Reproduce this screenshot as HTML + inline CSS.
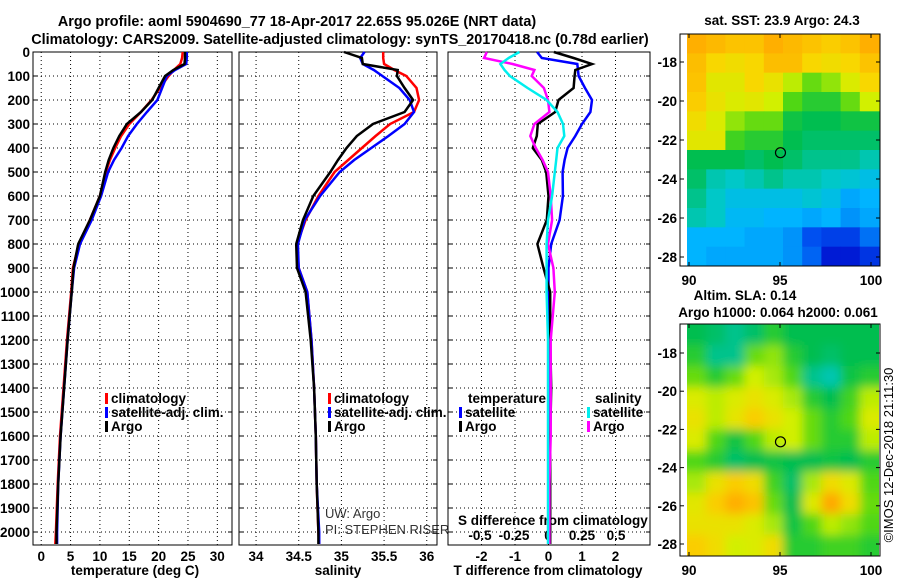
<!DOCTYPE html>
<html><head><meta charset="utf-8"><style>
body{margin:0;background:#fff;}
svg{display:block;font-family:"Liberation Sans",sans-serif;}
.b{font-weight:bold;font-size:13.5px;}
</style></head><body>
<svg id="s" width="900" height="580" xmlns="http://www.w3.org/2000/svg">
<text x="297" y="26" text-anchor="middle" font-size="14.4" font-weight="bold">Argo profile: aoml 5904690_77 18-Apr-2017 22.65S 95.026E (NRT data)</text>
<text x="340" y="44" text-anchor="middle" font-size="14.4" font-weight="bold">Climatology: CARS2009. Satellite-adjusted climatology: synTS_20170418.nc (0.78d earlier)</text>
<text class="b" x="782" y="25" text-anchor="middle">sat. SST: 23.9 Argo: 24.3</text>
<text class="b" x="745" y="300" text-anchor="middle">Altim. SLA: 0.14</text>
<text class="b" x="778" y="317" text-anchor="middle">Argo h1000: 0.064 h2000: 0.061</text>
<text x="893" y="455" font-size="13" text-anchor="middle" transform="rotate(-90 893 455)">©IMOS 12-Dec-2018 21:11:30</text>
<text x="325" y="518" font-size="13" fill="#333">UW: Argo</text>
<text x="325" y="534" font-size="13" fill="#333">PI: STEPHEN RISER</text>
<text class="b" x="458" y="525">S difference from climatology</text>
<text class="b" x="135" y="575" text-anchor="middle">temperature (deg C)</text>
<text class="b" x="338" y="575" text-anchor="middle">salinity</text>
<text class="b" x="548" y="575" text-anchor="middle">T difference from climatology</text>
<defs><filter id="bl" x="0" y="0" width="1" height="1"><feGaussianBlur stdDeviation="5"/></filter>
<clipPath id="c2"><rect x="687" y="324" width="192" height="232"/></clipPath></defs>
</svg>
<script>
const depths=[0,25,50,75,100,150,200,250,300,350,400,450,500,600,700,800,900,1000,1200,1400,1600,1800,2000,2050];
const tArgo=[24.5,24.5,24.4,22.5,21.1,20.0,18.9,17.0,14.6,13.3,12.3,11.5,10.9,10.0,8.3,6.3,5.5,5.2,4.5,3.9,3.3,2.9,2.6,2.6];
const tClim=[24.1,24.0,23.7,22.6,21.7,20.2,18.8,17.0,15.0,13.6,12.6,11.7,11.0,10.0,8.3,6.4,5.4,5.1,4.4,3.8,3.2,2.8,2.5,2.4];
const tSat=[24.8,24.8,24.7,22.8,21.4,20.6,19.8,18.0,16.3,14.8,13.7,12.4,11.4,10.2,8.6,6.6,5.6,5.2,4.5,3.9,3.3,2.9,2.7,2.7];
const sArgo=[35.03,35.24,35.25,35.66,35.65,35.74,35.84,35.74,35.37,35.18,35.06,34.96,34.87,34.67,34.55,34.47,34.48,34.58,34.64,34.68,34.70,34.71,34.73,34.73];
const sClim=[35.49,35.49,35.5,35.62,35.76,35.88,35.91,35.85,35.57,35.40,35.24,35.08,34.92,34.73,34.58,34.48,34.5,34.6,34.65,34.68,34.70,34.71,34.73,34.74];
const sSat=[35.27,35.22,35.25,35.38,35.48,35.68,35.80,35.85,35.74,35.55,35.35,35.15,34.98,34.75,34.57,34.49,34.5,34.6,34.65,34.68,34.70,34.71,34.74,34.74];
const dtSat=[-0.34,-0.2,0.86,0.88,0.9,1.09,1.3,1.25,1.0,0.8,0.57,0.48,0.42,0.43,0.33,0.08,0.0,0.0,0.0,0.0,0.0,0.0,0.0,0.0];
const dtArgo=[0.16,0.75,1.3,0.8,0.78,0.75,0.3,0.2,-0.32,-0.35,-0.47,-0.2,-0.07,0.0,-0.05,-0.33,-0.15,0.05,0.05,0.08,0.05,0.05,0.05,0.05];
const dsSat=[-0.21,-0.29,-0.35,-0.32,-0.28,-0.15,-0.01,0.07,0.11,0.12,0.07,0.06,0.05,0.03,0.0,-0.01,-0.01,-0.01,0.0,0.0,0.0,0.0,0.0,0.0];
const dsArgo=[-0.45,-0.47,-0.26,-0.1,-0.12,-0.03,0.0,0.01,-0.1,-0.13,-0.09,-0.04,0.0,0.02,0.03,0.0,0.04,0.05,0.02,0.02,0.02,0.01,0.01,0.01];
const depthTicks=[0,100,200,300,400,500,600,700,800,900,1000,1100,1200,1300,1400,1500,1600,1700,1800,1900,2000];
const tTicks=[0,5,10,15,20,25,30];
const sTicks=[34,34.5,35,35.5,36];
const sTickLabels=["34","34.5","35","35.5","36"];
const dTicks=[-2,-1,0,1,2];
const dsTicks=[-0.5,-0.25,0,0.25,0.5];
const dsTickLabels=["-0.5","-0.25","0","0.25","0.5"];
const lonTicks=[90,95,100];
const latTicks=[-18,-20,-22,-24,-26,-28];
const argoLon=95.026, argoLat=-22.65;
const sstGrid=[
[0.9,0.88,0.86,0.86,0.9,0.88,0.86,0.84,0.86,0.9],
[0.87,0.82,0.8,0.82,0.87,0.87,0.82,0.8,0.82,0.86],
[0.86,0.76,0.76,0.82,0.78,0.7,0.62,0.66,0.74,0.82],
[0.84,0.78,0.74,0.76,0.72,0.6,0.55,0.55,0.62,0.72],
[0.8,0.74,0.66,0.62,0.62,0.52,0.5,0.5,0.52,0.52],
[0.76,0.76,0.58,0.55,0.55,0.5,0.48,0.48,0.48,0.48],
[0.5,0.5,0.5,0.48,0.5,0.48,0.45,0.45,0.45,0.42],
[0.48,0.42,0.4,0.42,0.45,0.42,0.42,0.4,0.38,0.35],
[0.45,0.4,0.35,0.35,0.35,0.35,0.38,0.35,0.28,0.3],
[0.42,0.4,0.32,0.32,0.3,0.3,0.28,0.3,0.25,0.28],
[0.3,0.3,0.3,0.28,0.28,0.25,0.15,0.12,0.12,0.2],
[0.3,0.28,0.28,0.28,0.28,0.25,0.18,0.05,0.05,0.1]];
const slaGrid=[
[0.5,0.48,0.45,0.48,0.55,0.5,0.5,0.5,0.5,0.5],
[0.55,0.45,0.45,0.62,0.66,0.55,0.5,0.48,0.5,0.5],
[0.62,0.55,0.62,0.72,0.68,0.6,0.45,0.42,0.52,0.55],
[0.74,0.7,0.74,0.78,0.74,0.68,0.55,0.5,0.58,0.7],
[0.78,0.7,0.77,0.84,0.78,0.72,0.62,0.55,0.6,0.74],
[0.74,0.6,0.52,0.6,0.7,0.72,0.62,0.55,0.55,0.7],
[0.6,0.55,0.48,0.5,0.52,0.5,0.5,0.52,0.5,0.55],
[0.68,0.78,0.84,0.8,0.58,0.48,0.68,0.8,0.75,0.6],
[0.76,0.84,0.9,0.86,0.62,0.5,0.75,0.92,0.8,0.62],
[0.78,0.78,0.78,0.74,0.68,0.52,0.6,0.7,0.66,0.6],
[0.84,0.8,0.72,0.74,0.8,0.55,0.55,0.58,0.58,0.55]];

const S=document.getElementById('s');
const NS='http://www.w3.org/2000/svg';
function mk(tag,at,txt){const e=document.createElementNS(NS,tag);for(const k in at)e.setAttribute(k,at[k]);if(txt!==undefined)e.textContent=txt;S.appendChild(e);return e;}
const yD=d=>52+d*0.24;
const TOP=52,BOT=545;
const panels=[
 {x0:33,x1:232,v0:-1.4,v1:32.5,name:'temperature-panel'},
 {x0:239,x1:437,v0:33.8,v1:36.12,name:'salinity-panel'},
 {x0:448,x1:650,v0:-3,v1:3.03,name:'difference-panel'}];
panels.forEach(p=>{p.f=v=>p.x0+(v-p.v0)/(p.v1-p.v0)*(p.x1-p.x0);});
const xT=panels[0].f,xS=panels[1].f,xDT=panels[2].f;
const xDS=v=>548+v*136;
function grid(p,ticks,fx){
 depthTicks.forEach(d=>{const l=mk('line',{x1:p.x0,x2:p.x1,y1:yD(d),y2:yD(d),stroke:'#000','stroke-width':1,'stroke-dasharray':'1,3'});
  
  mk('line',{x1:p.x0,x2:p.x0+4,y1:yD(d),y2:yD(d),stroke:'#000'});mk('line',{x1:p.x1-4,x2:p.x1,y1:yD(d),y2:yD(d),stroke:'#000'});});
 ticks.forEach(v=>{const l=mk('line',{x1:fx(v),x2:fx(v),y1:TOP,y2:BOT,stroke:'#000','stroke-width':1,'stroke-dasharray':'1,3'});
  });
 const r=mk('rect',{x:p.x0,y:TOP,width:p.x1-p.x0,height:BOT-TOP,fill:'none',stroke:'#000'});
 
}
grid(panels[0],tTicks,xT);grid(panels[1],sTicks,xS);grid(panels[2],dTicks,xDT);
depthTicks.forEach(d=>{const t=mk('text',{x:30,y:yD(d)+5,'text-anchor':'end',class:'b'},String(d));
 });
tTicks.forEach(v=>{const t=mk('text',{x:xT(v),y:561,'text-anchor':'middle',class:'b'},String(v));});
sTicks.forEach((v,i)=>{const t=mk('text',{x:xS(v),y:561,'text-anchor':'middle',class:'b'},sTickLabels[i]);});
dTicks.forEach(v=>{const t=mk('text',{x:xDT(v),y:561,'text-anchor':'middle',class:'b'},String(v));});
dsTicks.forEach((v,i)=>{const t=mk('text',{x:xDS(v),y:540,'text-anchor':'middle',class:'b'},dsTickLabels[i]);});
function line(vals,fx,col,name,w){
 const pts=vals.map((v,i)=>fx(v).toFixed(1)+','+yD(depths[i]).toFixed(1)).join(' ');
 const l=mk('polyline',{points:pts,fill:'none',stroke:col,'stroke-width':w||2.5});
 
}
line(tClim,xT,'#f00','temperature-climatology-line');line(tSat,xT,'#00f','temperature-satellite-line');line(tArgo,xT,'#000','temperature-argo-line');
line(sClim,xS,'#f00','salinity-climatology-line');line(sSat,xS,'#00f','salinity-satellite-line');line(sArgo,xS,'#000','salinity-argo-line');
line(dtSat,xDT,'#00f','t-diff-satellite-line');line(dtArgo,xDT,'#000','t-diff-argo-line');
line(dsArgo,xDS,'#f0f','s-diff-argo-line');line(dsSat,xDS,'#0ee','s-diff-satellite-line');
function legend(x,y,col,label){
 const g=mk('rect',{x:x,y:y-9,width:3,height:11,fill:col});
 const t=mk('text',{x:x+6,y:y+1,class:'b'},label);
}
legend(105,402,'#f00','climatology');legend(105,416,'#00f','satellite-adj. clim.');legend(105,430,'#000','Argo');
legend(328,402,'#f00','climatology');legend(328,416,'#00f','satellite-adj. clim.');legend(328,430,'#000','Argo');
{const t=mk('text',{x:468,y:403,class:'b'},'temperature');}
{const t=mk('text',{x:595,y:403,class:'b'},'salinity');}
legend(459,416,'#00f','satellite');legend(459,430,'#000','Argo');
legend(587,416,'#0ee','satellite');legend(587,430,'#f0f','Argo');
function cmap(v){
 const st=[[0,[0,0,200]],[0.15,[0,80,240]],[0.3,[0,180,255]],[0.4,[0,200,200]],[0.5,[0,190,80]],[0.6,[80,215,20]],[0.72,[210,240,0]],[0.82,[248,215,0]],[0.9,[255,175,0]],[1,[255,140,0]]];
 for(let i=1;i<st.length;i++){if(v<=st[i][0]){const a=st[i-1],b=st[i],t=(v-a[0])/(b[0]-a[0]);return 'rgb('+a[1].map((c,k)=>Math.round(c+(b[1][k]-c)*t)).join(',')+')';}}
 return 'rgb(255,140,0)';
}
function map(grid,fr0,x0,x1,y0,y1,lonA,xA,lonB,xB,latA,yA,latB,yB,name,blur){
 const fx=l=>xA+(l-lonA)/(lonB-lonA)*(xB-xA), fy=l=>yA+(l-latA)/(latB-latA)*(yB-yA);
 const g=document.createElementNS(NS,'g');S.appendChild(g);
 
 if(blur){g.setAttribute('clip-path','url(#c2)');}
 const inner=document.createElementNS(NS,'g');g.appendChild(inner);if(blur)inner.setAttribute('filter','url(#bl)');
 const R=grid.length,C=grid[0].length,cw=(x1-x0)/C,ch=(y1-y0)/R;
 const pad=blur?20:0;
 grid.forEach((row,r)=>row.forEach((v,c)=>{const e=document.createElementNS(NS,'rect');
  let xx=x0+c*cw,yy=y0+r*ch,w=cw+0.5,h=ch+0.5;
  if(blur){if(c==0){xx-=pad;w+=pad;}if(c==C-1)w+=pad;if(r==0){yy-=pad;h+=pad;}if(r==R-1)h+=pad;}
  e.setAttribute('x',xx);e.setAttribute('y',yy);e.setAttribute('width',w);e.setAttribute('height',h);e.setAttribute('fill',cmap(v));
  inner.appendChild(e);}));
 const fr=mk('rect',{x:fr0,y:y0,width:x1+1-fr0,height:y1-y0,fill:'none',stroke:'#000'});
 lonTicks.forEach(l=>{mk('line',{x1:fx(l),x2:fx(l),y1:y1,y2:y1-4,stroke:'#000'});mk('line',{x1:fx(l),x2:fx(l),y1:y0,y2:y0+4,stroke:'#000'});
  const t=mk('text',{x:fx(l),y:y1+19,'text-anchor':'middle',class:'b'},String(l));});
 latTicks.forEach(l=>{mk('line',{x1:x1+1,x2:x1-3,y1:fy(l),y2:fy(l),stroke:'#000'});mk('line',{x1:fr0,x2:fr0+4,y1:fy(l),y2:fy(l),stroke:'#000'});
  const t=mk('text',{x:fr0-3,y:fy(l)+5,'text-anchor':'end',class:'b'},String(l));});
 const c=mk('circle',{cx:fx(argoLon),cy:fy(argoLat),r:5,fill:'none',stroke:'#000','stroke-width':1.2});
 
}
map(sstGrid,680,687,879,34,266,90,689,100,871,-18,62,-28,257,'sst-map',false);
map(slaGrid,680,687,879,324,556,90,689,100,871,-18,353,-28,544,'sla-map',true);
</script>
</body></html>
